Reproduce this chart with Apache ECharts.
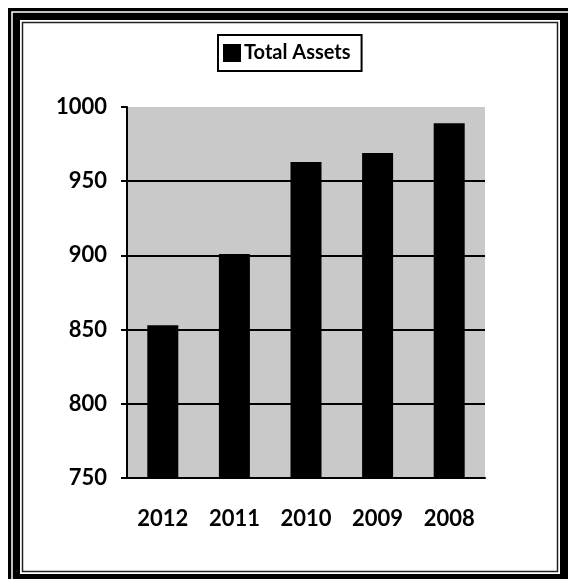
<!DOCTYPE html>
<html>
<head>
<meta charset="utf-8">
<script src="https://cdn.jsdelivr.net/npm/echarts@6/dist/echarts.min.js"></script>
<style>
  html, body { margin: 0; padding: 0; background: #fff; }
  #chart { width: 568px; height: 579px; }
</style>
</head>
<body>
<div id="chart"></div>
<script>
var years = ['2012', '2011', '2010', '2009', '2008']
var totalAssets = [853, 901, 963, 969, 989]
var yMin = 750
var yMax = 1000
var yStep = 50

var font = 'Lato'
var chart = echarts.init(document.getElementById('chart'))

var option = {
  backgroundColor: '#fff',
  animation: false,
  // double frame round the whole chart
  graphic: [
    { type: 'rect', z: -10, shape: { x: 8, y: 8, width: 562, height: 573 }, style: { fill: '#000' } },
    { type: 'rect', z: -9, shape: { x: 12, y: 12, width: 560, height: 570 }, style: { fill: null, stroke: '#fff', lineWidth: 1.5 } },
    { type: 'rect', z: -8, shape: { x: 20, y: 20, width: 540, height: 554 }, style: { fill: '#fff' } },
    { type: 'rect', z: -7, shape: { x: 22.5, y: 22.5, width: 535, height: 549 }, style: { fill: '#fff', stroke: '#222', lineWidth: 1.5 } }
  ],
  legend: {
    left: 218,
    top: 35,
    padding: [8, 11, 8, 5],
    itemGap: 0,
    itemWidth: 18,
    itemHeight: 18,
    icon: 'rect',
    borderColor: '#000',
    borderWidth: 2,
    backgroundColor: '#fff',
    textStyle: { fontFamily: font, fontWeight: 'bold', fontSize: 20, color: '#000', padding: [0, 0, 0, -2] },
    data: ['Total Assets']
  },
  grid: {
    left: 127,
    right: 83,
    top: 107,
    bottom: 101,
    show: true,
    borderWidth: 0,
    backgroundColor: '#c9c9c9'
  },
  xAxis: {
    type: 'category',
    data: years,
    axisLine: { lineStyle: { color: '#000', width: 2 } },
    axisTick: { length: 9, lineStyle: { color: '#000', width: 2 } },
    axisLabel: { margin: 30, color: '#000', fontFamily: font, fontWeight: 'bold', fontSize: 22 }
  },
  yAxis: {
    type: 'value',
    min: yMin,
    max: yMax,
    interval: yStep,
    axisLine: { show: true, lineStyle: { color: '#000', width: 2 } },
    axisTick: { show: true, length: 6, lineStyle: { color: '#000', width: 2 } },
    axisLabel: {
      margin: 20, color: '#000', fontFamily: font, fontWeight: 'bold', fontSize: 22,
      formatter: function (v) { return String(v) }
    },
    splitLine: { show: true, showMaxLine: false, lineStyle: { color: '#000', width: 2 } }
  },
  series: [{
    name: 'Total Assets',
    type: 'bar',
    data: totalAssets,
    barWidth: 31,
    itemStyle: { color: '#000' }
  }]
}
chart.setOption(option)
</script>
</body>
</html>
